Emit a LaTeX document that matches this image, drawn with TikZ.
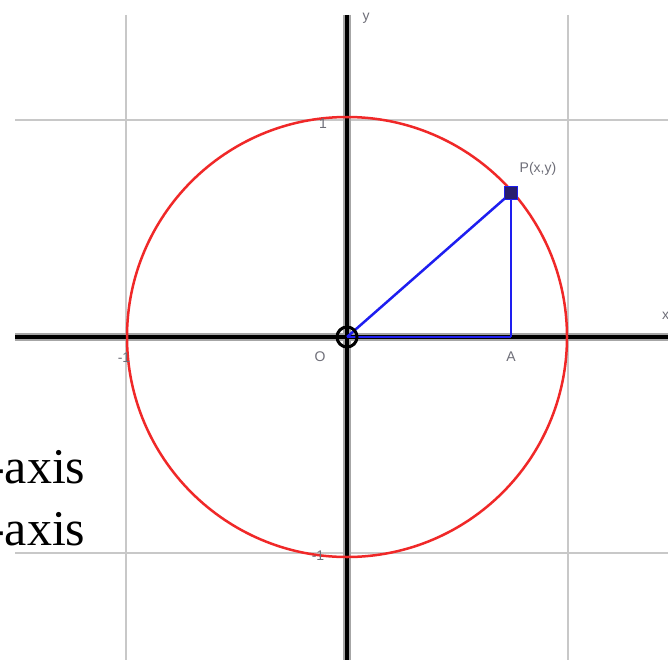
\documentclass[tikz,border=0pt]{standalone}
\usepackage{fontspec}
\setmainfont{Liberation Serif}
\newfontfamily\labfont{Liberation Sans}
\definecolor{gridgray}{RGB}{200,200,200}
\definecolor{circred}{RGB}{240,40,40}
\definecolor{segblue}{RGB}{30,30,240}
\definecolor{labgray}{RGB}{110,110,120}
\definecolor{navy}{RGB}{40,30,110}
\begin{document}
\begin{tikzpicture}[x=1pt,y=-1pt,
  gridline/.style={draw=gridgray,line width=2},
  axishalo/.style={draw=black!35,line width=8},
  axisline/.style={draw=black,line width=3.5},
  seg/.style={draw=segblue,line width=2.5},
  smalllab/.style={font=\labfont\fontsize{14}{15}\selectfont,text=labgray,inner sep=0},
  bigtext/.style={font=\fontsize{50}{56}\selectfont,anchor=base west,inner sep=0}]
\useasboundingbox (0,0) rectangle (668,660);
\fill[white] (0,0) rectangle (668,660);
% grid
\draw[gridline] (126,15) -- (126,660);
\draw[gridline] (568,15) -- (568,660);
\draw[gridline] (15,120) -- (668,120);
\draw[gridline] (15,553) -- (668,553);
% axes
\draw[axishalo] (15,337) -- (668,337);
\draw[axishalo] (347,15) -- (347,660);
\draw[axisline] (15,337) -- (668,337);
\draw[axisline] (347,15) -- (347,660);
% circle
\draw[circred,line width=2.5] (347,337) circle[radius=220];
% points
\coordinate (O) at (347,337);
\coordinate (A) at (511,337);
\coordinate (P) at (511,193);
\draw[seg] (O) -- (P);
\draw[seg] (P) -- (A);
\draw[seg] (O) -- (A);
\node[draw=segblue,fill=navy,minimum size=13,inner sep=0,line width=1.5] (Pm) at (P) {};
\node[draw=black,circle,minimum size=20,inner sep=0,line width=3] (Om) at (O) {};
% labels
\node[smalllab] (ly) at (366,18) {y};
\node[smalllab,anchor=west] (lx) at (662,316) {x};
\node[smalllab] (l1) at (323,124) {1};
\node[smalllab] (lm1) at (124,358) {-1};
\node[smalllab] (lO) at (320,357) {O};
\node[smalllab] (lA) at (511,357) {A};
\node[smalllab] (lm1b) at (318,556) {-1};
\node[smalllab] (lP) at (538,169) {P(x,y)};
% text cut off at the left edge, as in the reference
\node[bigtext] (t1) at (-12,483) {-axis};
\node[bigtext] (t2) at (-12,545) {-axis};
\end{tikzpicture}
\end{document}
